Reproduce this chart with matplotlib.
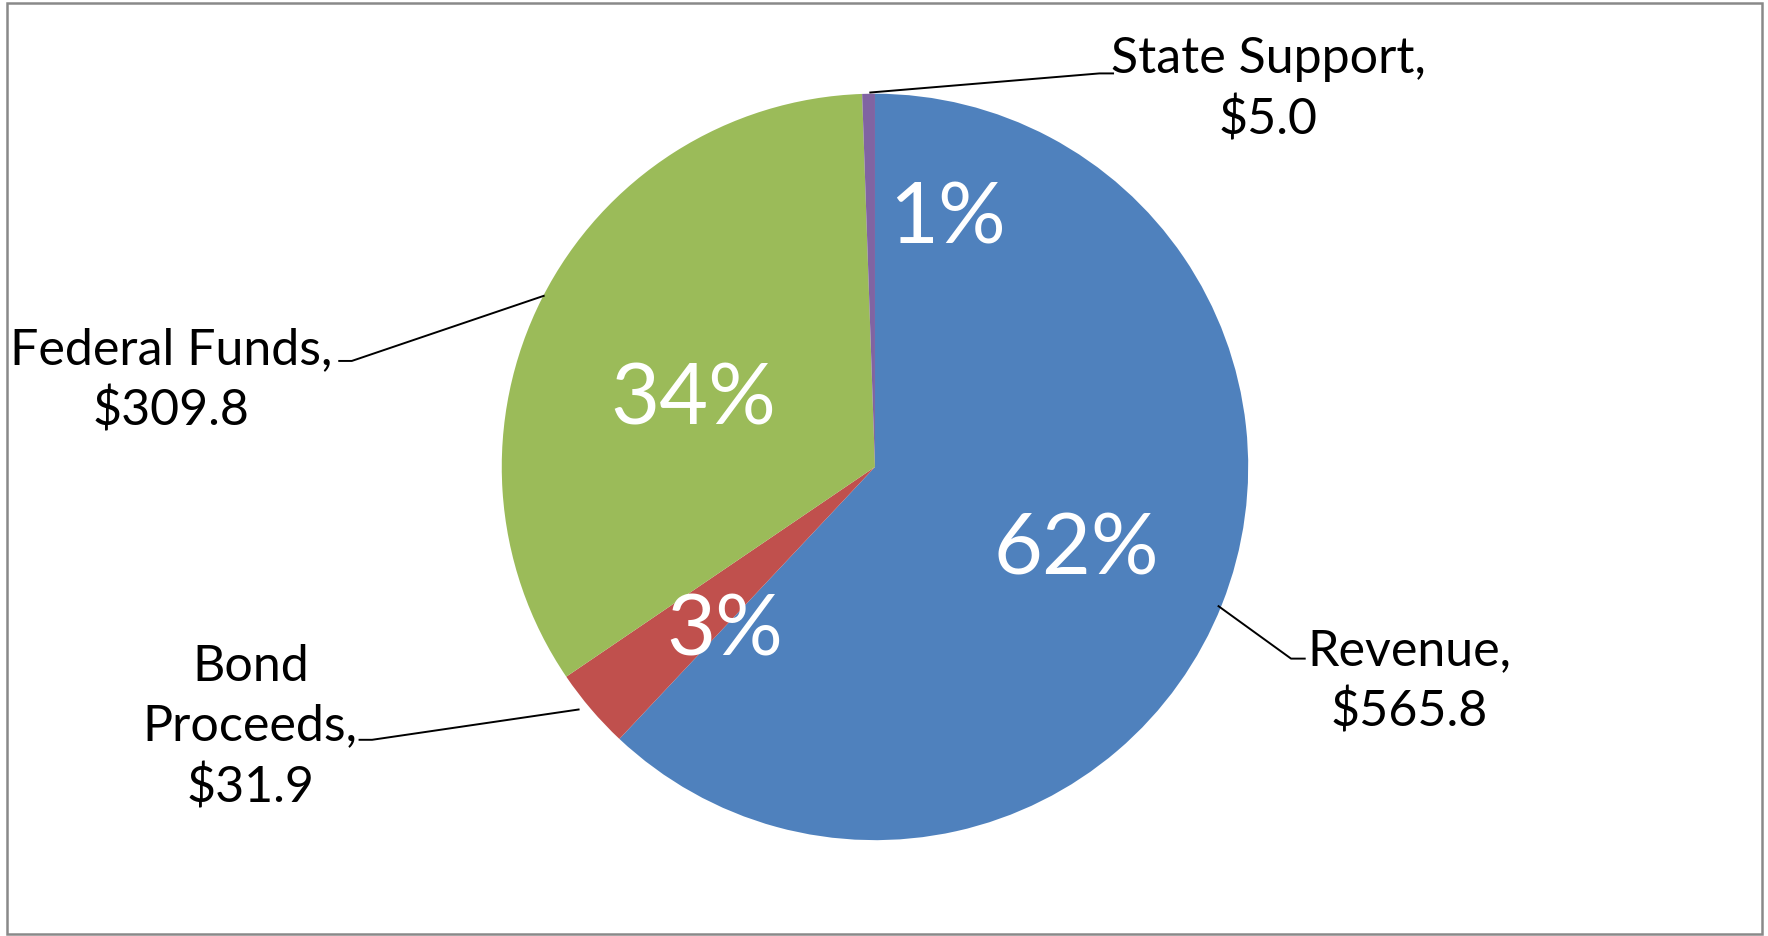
import matplotlib

matplotlib.use("Agg")
import matplotlib.pyplot as plt
from matplotlib.patches import Rectangle

# data (millions of dollars)
categories = ["Revenue", "Bond\nProceeds", "Federal Funds", "State Support"]
values = [565.8, 31.9, 309.8, 5.0]
colors = ["#4F81BD", "#C0504D", "#9BBB59", "#8064A2"]

W, H = 1768, 937
# layout coordinates below are measured on a 1568-wide view of the chart
S = W / 1568
LW, LH = W / S, H / S
plt.rcParams["font.family"] = ["Lato", "DejaVu Sans"]


def py(y):
    # pixel row -> data y
    return LH - y


fig = plt.figure(figsize=(W / 100, H / 100), dpi=100)
ax = fig.add_axes([0, 0, 1, 1])

wedges, _, pcts = ax.pie(
    values,
    colors=colors,
    startangle=90,
    counterclock=False,
    center=(776, py(415)),
    radius=331,
    autopct="%1.0f%%",
    pctdistance=0.55,
    textprops={"color": "white", "fontsize": 54 * S},
)
ax.set_xlim(0, LW)
ax.set_ylim(0, LH)
ax.set_aspect("equal")
ax.axis("off")

# percentage label positions, nudged like the original
pct_pos = [(955, 488), (643, 560), (615, 355), (840, 195)]
for t, (x, y) in zip(pcts, pct_pos):
    t.set_position((x, py(y)))
    t.set_ha("center")
    t.set_va("center")

# category labels with leader lines
label_text = [f"{c},\n${v:.1f}" for c, v in zip(categories, values)]
label_pos = [(1250, 605), (222, 645), (152, 338), (1125, 80)]
leaders = [
    [(1080, 538), (1145, 585), (1158, 585)],
    [(514, 630), (330, 657), (318, 657)],
    [(483, 263), (312, 321), (300, 321)],
    [(771, 83), (975, 66), (988, 66)],
]
for txt, (x, y), pts in zip(label_text, label_pos, leaders):
    ax.text(x, py(y), txt, ha="center", va="center", fontsize=32 * S,
            color="black", linespacing=1.38)
    ax.plot([p[0] for p in pts], [py(p[1]) for p in pts],
            color="black", lw=1.4, solid_capstyle="butt")

# chart frame
fig.patches.append(Rectangle((7 / W, 2 / H), 1755 / W, 931 / H,
                             transform=fig.transFigure, fill=False,
                             edgecolor="#898989", lw=1.8))

fig.savefig("out.png", dpi=100)
plt.close(fig)
